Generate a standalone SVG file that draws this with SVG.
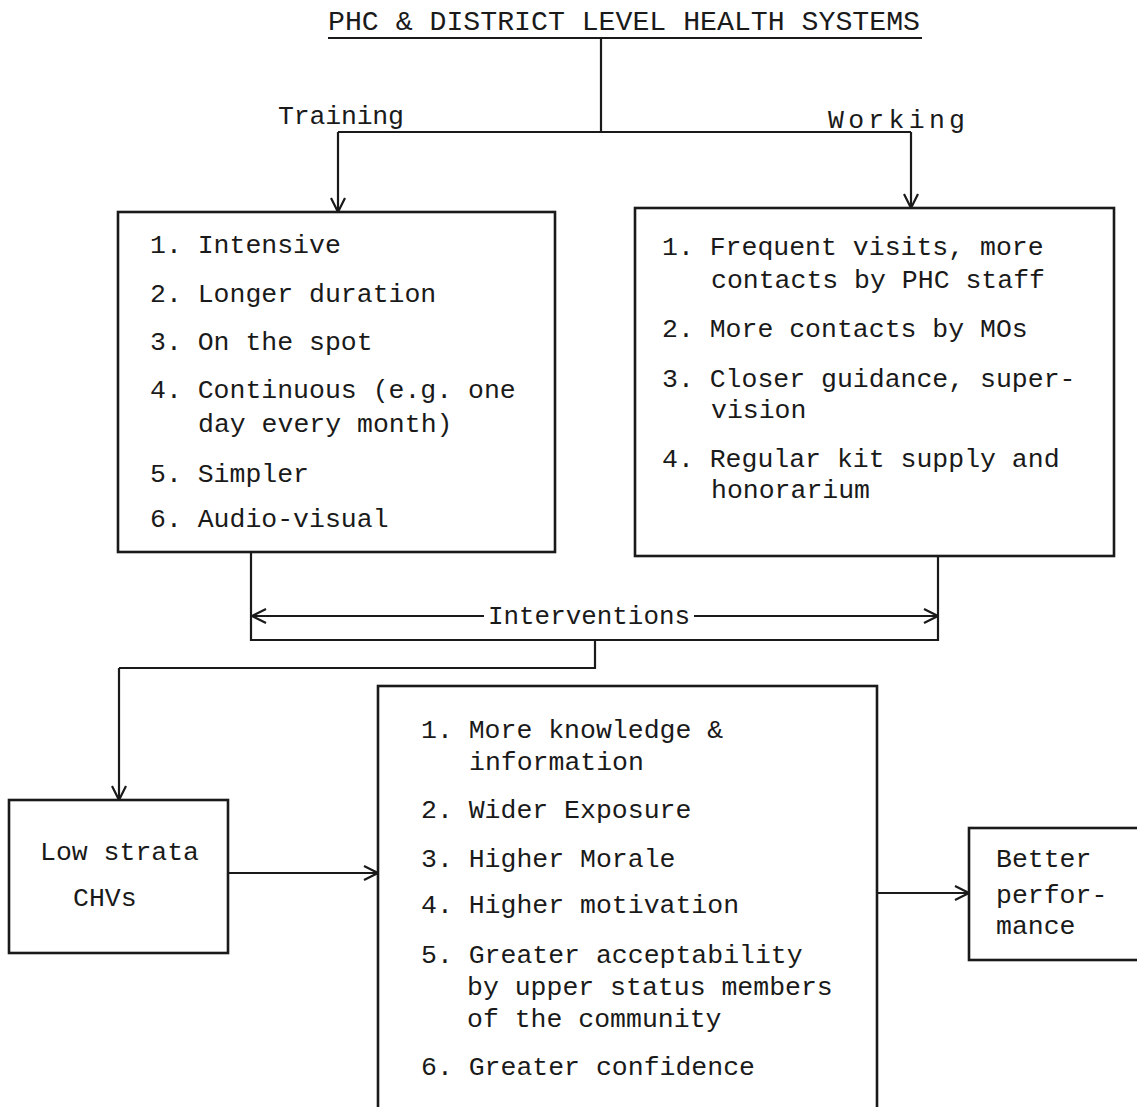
<svg xmlns="http://www.w3.org/2000/svg" width="1137" height="1107" viewBox="0 0 1137 1107">
<style>
.t{font-family:"Liberation Mono","DejaVu Sans Mono",monospace;font-size:26.5px;fill:#1a1a1a}
.ttl{font-size:28px}
.ln{stroke:#1a1a1a;stroke-width:2.2;fill:none}
.box{stroke:#1a1a1a;stroke-width:2.6;fill:none}
</style>
<defs>
<marker id="ah" viewBox="0 0 16 16" refX="15" refY="8" markerWidth="16" markerHeight="16" markerUnits="userSpaceOnUse" orient="auto-start-reverse">
<path d="M1,1 L15,8 L1,15" fill="none" stroke="#1a1a1a" stroke-width="2.2"/>
</marker>
</defs>
<rect width="1137" height="1107" fill="#ffffff"/>
<g id="title">
<text class="t ttl" x="328" y="30" textLength="592" lengthAdjust="spacingAndGlyphs">PHC &amp; DISTRICT LEVEL HEALTH SYSTEMS</text>
<line class="ln" x1="328" y1="38" x2="922" y2="38"/>
</g>
<g id="connectors">
<polyline class="ln" points="601,38 601,132"/>
<polyline class="ln" points="338,132 911,132"/>
<line class="ln" x1="338" y1="132" x2="338" y2="212" marker-end="url(#ah)"/>
<line class="ln" x1="911" y1="132" x2="911" y2="208" marker-end="url(#ah)"/>
<text class="t" x="278" y="124" textLength="126" lengthAdjust="spacing">Training</text>
<text class="t" x="828" y="128" textLength="137" lengthAdjust="spacing">Working</text>
<polyline class="ln" points="251,553 251,640 938,640 938,556"/>
<line class="ln" x1="484" y1="616" x2="252" y2="616" marker-end="url(#ah)"/>
<line class="ln" x1="694" y1="616" x2="938" y2="616" marker-end="url(#ah)"/>
<text class="t" x="488" y="624" textLength="202" lengthAdjust="spacingAndGlyphs">Interventions</text>
<polyline class="ln" points="595,640 595,668 119,668"/>
<line class="ln" x1="119" y1="668" x2="119" y2="800" marker-end="url(#ah)"/>
<line class="ln" x1="228" y1="873" x2="378" y2="873" marker-end="url(#ah)"/>
<line class="ln" x1="877" y1="893" x2="969" y2="893" marker-end="url(#ah)"/>
</g>
<g id="training-box">
<rect class="box" x="118" y="212" width="437" height="340"/>
<text class="t" x="150" y="253">1. Intensive</text>
<text class="t" x="150" y="302">2. Longer duration</text>
<text class="t" x="150" y="350">3. On the spot</text>
<text class="t" x="150" y="398">4. Continuous (e.g. one</text>
<text class="t" x="198" y="432">day every month)</text>
<text class="t" x="150" y="482">5. Simpler</text>
<text class="t" x="150" y="527">6. Audio-visual</text>
</g>
<g id="working-box">
<rect class="box" x="635" y="208" width="479" height="348"/>
<text class="t" x="662" y="255">1. Frequent visits, more</text>
<text class="t" x="711" y="288">contacts by PHC staff</text>
<text class="t" x="662" y="337">2. More contacts by MOs</text>
<text class="t" x="662" y="387">3. Closer guidance, super-</text>
<text class="t" x="711" y="418">vision</text>
<text class="t" x="662" y="467">4. Regular kit supply and</text>
<text class="t" x="711" y="498">honorarium</text>
</g>
<g id="chv-box">
<rect class="box" x="9" y="800" width="219" height="153"/>
<text class="t" x="40" y="860">Low strata</text>
<text class="t" x="73" y="906">CHVs</text>
</g>
<g id="outcomes-box">
<rect class="box" x="378" y="686" width="499" height="440"/>
<text class="t" x="421" y="738">1. More knowledge &amp;</text>
<text class="t" x="469" y="770">information</text>
<text class="t" x="421" y="818">2. Wider Exposure</text>
<text class="t" x="421" y="867">3. Higher Morale</text>
<text class="t" x="421" y="913">4. Higher motivation</text>
<text class="t" x="421" y="963">5. Greater acceptability</text>
<text class="t" x="467" y="995">by upper status members</text>
<text class="t" x="467" y="1027">of the community</text>
<text class="t" x="421" y="1075">6. Greater confidence</text>
</g>
<g id="performance-box">
<rect class="box" x="969" y="828" width="190" height="132"/>
<text class="t" x="996" y="867">Better</text>
<text class="t" x="996" y="903">perfor-</text>
<text class="t" x="996" y="934">mance</text>
</g>
</svg>
